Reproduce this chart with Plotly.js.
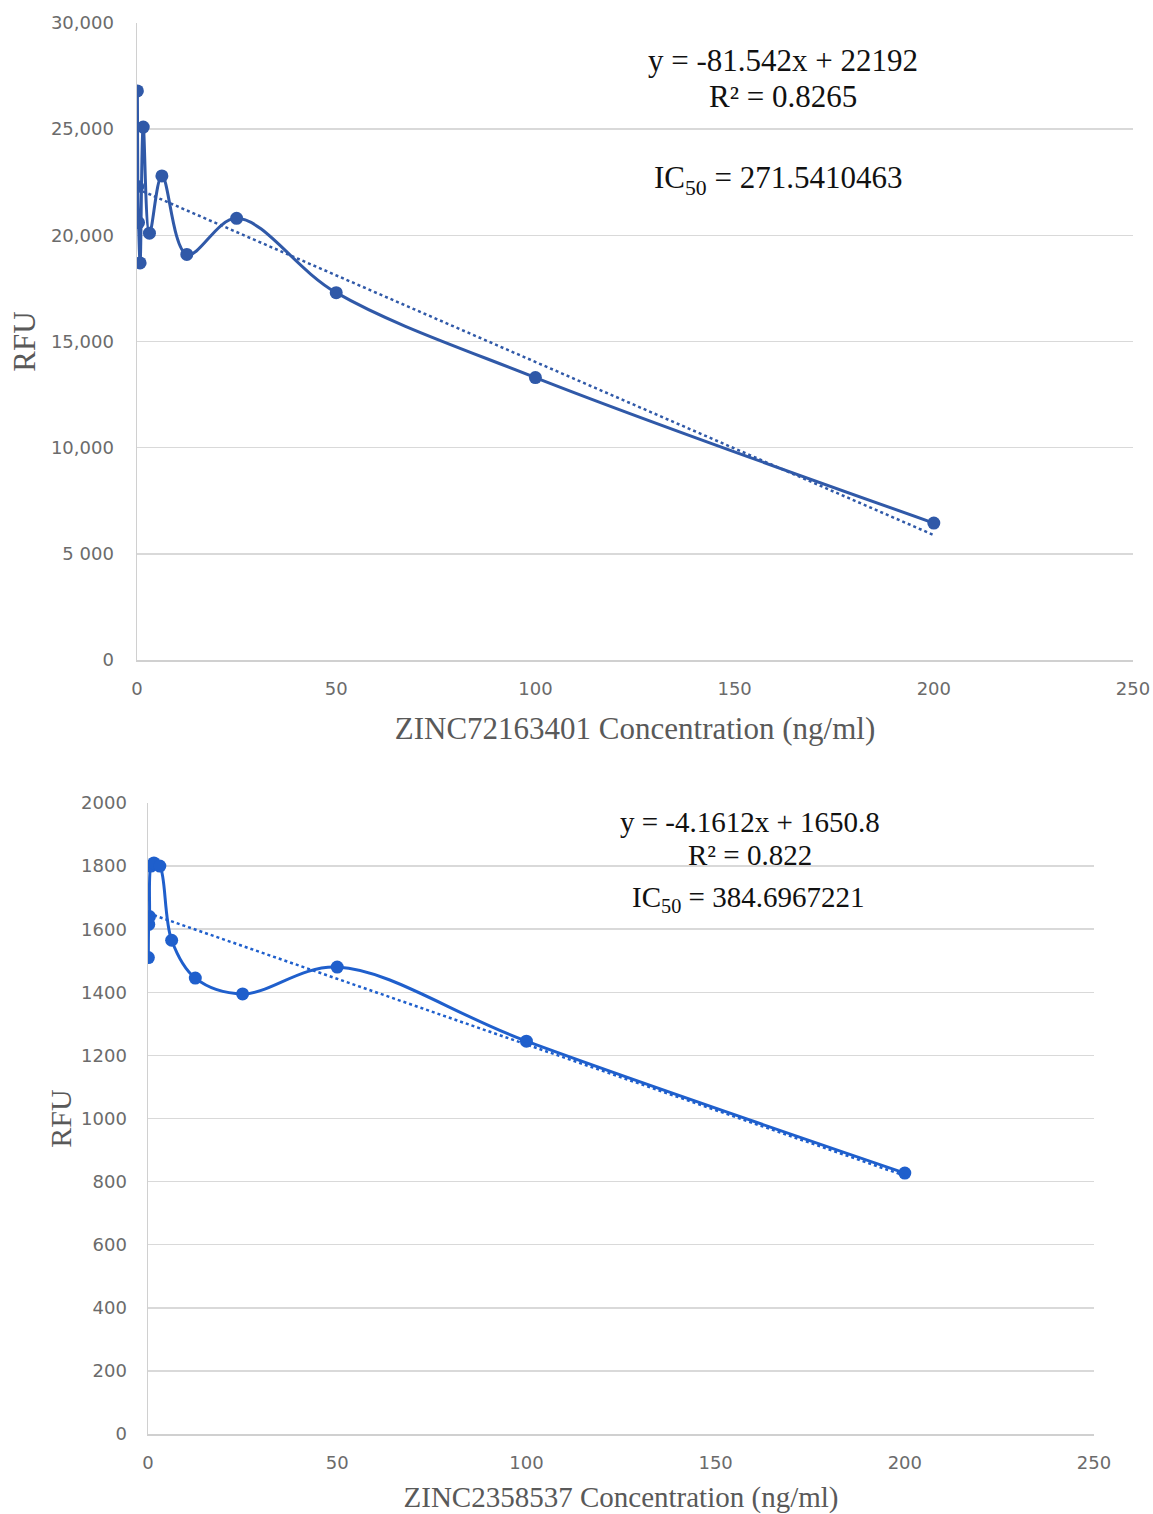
<!DOCTYPE html>
<html>
<head>
<meta charset="utf-8">
<script src="https://cdn.plot.ly/plotly-3.0.1.min.js"></script>
<style>html,body{margin:0;padding:0;background:#fff;}#chart{width:1153px;height:1514px;}</style>
</head>
<body>
<div id="chart"></div>
<script>
// ---- Data: top chart (ZINC72163401) ----
const concTop = [0.098, 0.195, 0.39, 0.78, 1.5625, 3.125, 6.25, 12.5, 25, 50, 100, 200];
const rfuTop  = [26800, 22300, 20600, 18700, 25100, 20100, 22800, 19100, 20800, 17300, 13300, 6450];
const slopeTop = -81.542, interceptTop = 22192;
const yTickValsTop = [0, 5000, 10000, 15000, 20000, 25000, 30000];
const yTickTextTop = ["0", "5 000", "10,000", "15,000", "20,000", "25,000", "30,000"];

// ---- Data: bottom chart (ZINC2358537) ----
const concBot = [0.098, 0.195, 0.39, 0.78, 1.5625, 3.125, 6.25, 12.5, 25, 50, 100, 200];
const rfuBot  = [1510, 1615, 1640, 1800, 1810, 1800, 1565, 1445, 1395, 1480, 1245, 827];
const slopeBot = -4.1612, interceptBot = 1650.8;
const yTickValsBot = [0, 200, 400, 600, 800, 1000, 1200, 1400, 1600, 1800, 2000];
const xTickVals = [0, 50, 100, 150, 200, 250];

const trendX = (xs) => [Math.min(...xs), Math.max(...xs)];
const trendY = (xs, m, b) => trendX(xs).map(x => m * x + b);

const colTop = '#3059A8';
const colBot = '#1F5FCC';
const tickFont = {family: 'DejaVu Sans, Verdana, sans-serif', size: 18, color: '#6b6b6b'};
const serif = 'Liberation Serif, Times New Roman, serif';
const annFontTop = {family: serif, size: 31, color: '#111111'};
const annFontBot = {family: serif, size: 29, color: '#111111'};

const W = 1153, H = 1514;
const px = v => v / W;
const py = v => 1 - v / H;

const traces = [
  {x: concTop, y: rfuTop, type: 'scatter', mode: 'lines+markers', xaxis: 'x', yaxis: 'y',
   line: {color: colTop, width: 3, shape: 'spline', smoothing: 1}, marker: {color: colTop, size: 13}},
  {x: trendX(concTop), y: trendY(concTop, slopeTop, interceptTop), type: 'scatter', mode: 'lines',
   xaxis: 'x', yaxis: 'y', line: {color: colTop, width: 2.5, dash: 'dot'}},
  {x: concBot, y: rfuBot, type: 'scatter', mode: 'lines+markers', xaxis: 'x2', yaxis: 'y2',
   line: {color: colBot, width: 3, shape: 'spline', smoothing: 1}, marker: {color: colBot, size: 13}},
  {x: trendX(concBot), y: trendY(concBot, slopeBot, interceptBot), type: 'scatter', mode: 'lines',
   xaxis: 'x2', yaxis: 'y2', line: {color: colBot, width: 2.5, dash: 'dot'}}
];

const axBase = {
  showgrid: true, gridcolor: '#d9d9d9', gridwidth: 1.5, zeroline: false,
  showline: false, ticks: '', tickfont: tickFont, fixedrange: true
};

const layout = {
  width: W, height: H, margin: {l: 0, r: 0, t: 0, b: 0},
  paper_bgcolor: '#ffffff', plot_bgcolor: '#ffffff', showlegend: false,
  xaxis: Object.assign({}, axBase, {domain: [px(137), px(1133)], range: [0, 250], anchor: 'y',
    tickvals: xTickVals, showgrid: false, showline: true, linecolor: '#d0d0d0', linewidth: 1.5,
    ticklabelstandoff: 12,
    title: {text: 'ZINC72163401 Concentration (ng/ml)', font: {family: serif, size: 31, color: '#595959'}, standoff: 19}}),
  yaxis: Object.assign({}, axBase, {domain: [py(660), py(23)], range: [0, 30000], anchor: 'x',
    tickvals: yTickValsTop, ticktext: yTickTextTop, showline: true, linecolor: '#d0d0d0', linewidth: 1.5,
    ticklabelstandoff: 18,
    title: {text: 'RFU', font: {family: serif, size: 31, color: '#595959'}, standoff: 6}}),
  xaxis2: Object.assign({}, axBase, {domain: [px(148), px(1094)], range: [0, 250], anchor: 'y2',
    tickvals: xTickVals, showgrid: false, showline: true, linecolor: '#d0d0d0', linewidth: 1.5,
    ticklabelstandoff: 12,
    title: {text: 'ZINC2358537 Concentration (ng/ml)', font: {family: serif, size: 29, color: '#595959'}, standoff: 15}}),
  yaxis2: Object.assign({}, axBase, {domain: [py(1434), py(803)], range: [0, 2000], anchor: 'x2',
    tickvals: yTickValsBot, showline: true, linecolor: '#d0d0d0', linewidth: 1.5,
    ticklabelstandoff: 16,
    title: {text: 'RFU', font: {family: serif, size: 30, color: '#595959'}, standoff: 0}}),
  annotations: [
    {xref: 'paper', yref: 'paper', x: px(783), y: py(60), text: 'y = -81.542x + 22192', showarrow: false, font: annFontTop, xanchor: 'center', yanchor: 'middle'},
    {xref: 'paper', yref: 'paper', x: px(783), y: py(96), text: 'R² = 0.8265', showarrow: false, font: annFontTop, xanchor: 'center', yanchor: 'middle'},
    {xref: 'paper', yref: 'paper', x: px(778), y: py(180), text: 'IC<sub>50</sub> = 271.5410463', showarrow: false, font: annFontTop, xanchor: 'center', yanchor: 'middle'},
    {xref: 'paper', yref: 'paper', x: px(750), y: py(822), text: 'y = -4.1612x + 1650.8', showarrow: false, font: annFontBot, xanchor: 'center', yanchor: 'middle'},
    {xref: 'paper', yref: 'paper', x: px(750), y: py(855), text: 'R² = 0.822', showarrow: false, font: annFontBot, xanchor: 'center', yanchor: 'middle'},
    {xref: 'paper', yref: 'paper', x: px(748), y: py(899), text: 'IC<sub>50</sub> = 384.6967221', showarrow: false, font: annFontBot, xanchor: 'center', yanchor: 'middle'}
  ]
};

Plotly.newPlot('chart', traces, layout, {staticPlot: true, displayModeBar: false});
</script>
</body>
</html>
